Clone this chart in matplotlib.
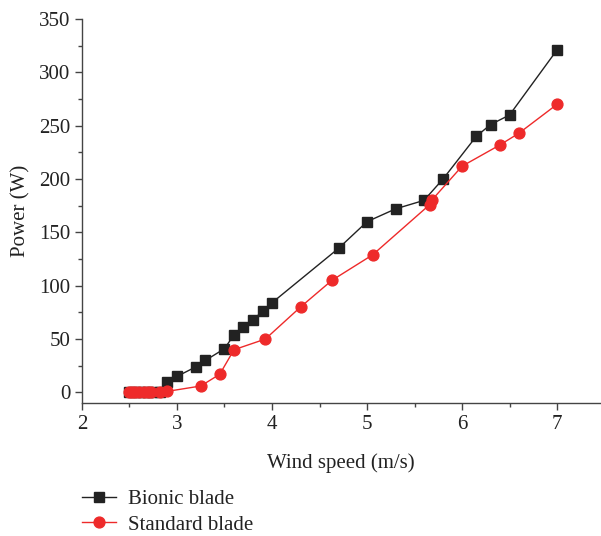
import matplotlib
matplotlib.use("Agg")
import matplotlib.pyplot as plt
from matplotlib.ticker import MultipleLocator

bionic_x = [2.5, 2.55, 2.6, 2.65, 2.7, 2.75, 2.82, 2.9, 3.0, 3.2, 3.3, 3.5, 3.6, 3.7, 3.8, 3.9, 4.0,
            4.7, 5.0, 5.3, 5.6, 5.8, 6.15, 6.3, 6.5, 7.0]
bionic_y = [0, 0, 0, 0, 0, 0, 0, 10, 15, 24, 30, 41, 54, 61, 68, 76, 84,
            135, 160, 172, 180, 200, 240, 251, 260, 321]

standard_x = [2.5, 2.53, 2.56, 2.6, 2.65, 2.7, 2.73, 2.82, 2.9, 3.25, 3.45, 3.6, 3.93,
              4.3, 4.63, 5.06, 5.66, 5.68, 6.0, 6.4, 6.6, 7.0]
standard_y = [0, 0, 0, 0, 0, 0, 0, 0, 1, 6, 17, 40, 50,
              80, 105, 129, 176, 180, 212, 232, 243, 270]

plt.rcParams['font.family'] = ['Liberation Serif', 'DejaVu Serif']

fig = plt.figure(figsize=(6.01, 5.36), dpi=100)
ax = fig.add_axes([0.1364, 0.248, 0.8616, 0.7166])

l1, = ax.plot(bionic_x, bionic_y, color='#222222', lw=1.0, marker='s', ms=7,
              label='Bionic blade', zorder=2)
l2, = ax.plot(standard_x, standard_y, color='#ee2a2a', lw=1.0, marker='o', ms=7.8,
              label='Standard blade', zorder=3)

ax.set_xlim(2, 7.45)
ax.set_ylim(-10, 350)
ax.xaxis.set_minor_locator(MultipleLocator(0.5))
ax.yaxis.set_minor_locator(MultipleLocator(25))
ax.set_xticks([2, 3, 4, 5, 6, 7])
ax.set_yticks([0, 50, 100, 150, 200, 250, 300, 350])

for s in ['top', 'right']:
    ax.spines[s].set_visible(False)
for s in ['left', 'bottom']:
    ax.spines[s].set_color('#444444')
    ax.spines[s].set_linewidth(1.0)

ax.tick_params(which='major', direction='out', length=5, width=1, color='#444444',
               labelsize=15, labelcolor='#222222')
ax.tick_params(which='minor', direction='out', length=3, width=1, color='#444444')

ax.set_xlabel('Wind speed (m/s)', fontsize=15, color='#222222', labelpad=14)
ax.set_ylabel('Power (W)', fontsize=15, color='#222222', labelpad=6)

fig.legend(handles=[l1, l2], loc='upper left', bbox_to_anchor=(0.137, 0.087),
           frameon=False, fontsize=15, handlelength=1.6, handletextpad=0.6,
           labelspacing=0.3, borderaxespad=0, borderpad=0, labelcolor='#222222')

fig.savefig('out.png', dpi=100)
